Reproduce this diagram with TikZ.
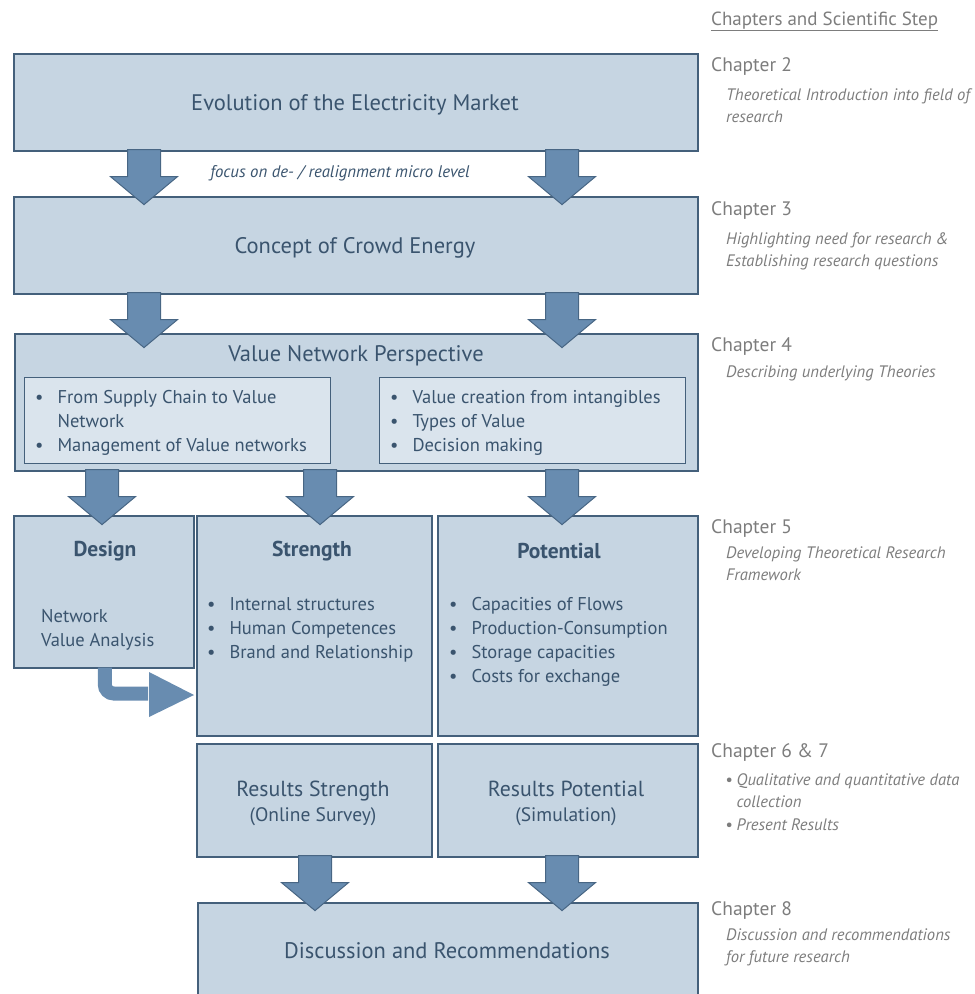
\documentclass[tikz,border=0pt]{standalone}
\usepackage{fontspec}
\setmainfont{PT Sans}
\usetikzlibrary{calc}

\definecolor{boxfill}{RGB}{198,213,226}
\definecolor{innerfill}{RGB}{218,228,237}
\definecolor{boxline}{RGB}{68,96,123}
\definecolor{boxtext}{RGB}{58,84,110}
\definecolor{arrowfill}{RGB}{104,140,176}
\definecolor{arrowline}{RGB}{72,102,132}
\definecolor{sidegray}{RGB}{125,125,125}

% downward block arrow, #1 = x centre, #2 = node it leaves from
\newcommand\dnblock[2]{%
  \path let \p1=(#2.south) in [blkarrow]
    (#1pt-16.5pt,\y1+2pt) -- (#1pt+16.5pt,\y1+2pt) -- (#1pt+16.5pt,\y1-25pt)
    -- (#1pt+33.5pt,\y1-25pt) -- (#1pt,\y1-53pt) -- (#1pt-33.5pt,\y1-25pt)
    -- (#1pt-16.5pt,\y1-25pt) -- cycle;}

\begin{document}
\begin{tikzpicture}[x=1pt,y=-1pt,
  box/.style={draw=boxline,fill=boxfill,line width=1.6pt,anchor=north west,inner sep=0pt},
  innerbox/.style={draw=boxline,fill=innerfill,line width=1.1pt,anchor=north west,inner sep=0pt},
  blkarrow/.style={draw=arrowline,fill=arrowfill,line width=1pt,line join=miter},
  title/.style={text=boxtext,anchor=base,inner sep=0pt,font=\fontsize{22.5}{26}\selectfont},
  head/.style={text=boxtext,anchor=base,inner sep=0pt,font=\bfseries\fontsize{21.5}{24}\selectfont},
  bul/.style={text=boxtext,anchor=base west,inner sep=0pt,font=\fontsize{18.5}{24}\selectfont},
  chap/.style={text=sidegray,anchor=base west,inner sep=0pt,font=\fontsize{19.5}{22}\selectfont},
  desc/.style={text=sidegray,anchor=base west,inner sep=0pt,font=\itshape\fontsize{16.6}{22.5}\selectfont}]
\path[use as bounding box] (0,0) rectangle (975,994);
\clip (0,0) rectangle (975,994);

% main flow boxes
\node[box,minimum width=684pt,minimum height=97pt] (evol) at (13,53) {};
\node[box,minimum width=684pt,minimum height=97pt] (crowd) at (13,196) {};
\node[box,minimum width=683pt,minimum height=137pt] (vnp) at (14,333) {};
\node[innerbox,minimum width=306pt,minimum height=86pt] (vnpl) at (24,377) {};
\node[innerbox,minimum width=306pt,minimum height=86pt] (vnpr) at (379,377) {};
\node[box,minimum width=180pt,minimum height=152pt] (design) at (13,515) {};
\node[box,minimum width=235pt,minimum height=220pt] (strength) at (196,515) {};
\node[box,minimum width=260pt,minimum height=220pt] (potential) at (437,515) {};
\node[box,minimum width=235pt,minimum height=113pt] (ress) at (196,743) {};
\node[box,minimum width=260pt,minimum height=113pt] (resp) at (437,743) {};
\node[box,minimum width=500pt,minimum height=112pt] (disc) at (197,902) {};

% box texts
\node[title] (tevol) at (355,110) {Evolution of the Electricity Market};
\node[title] (tcrowd) at (355,253) {Concept of Crowd Energy};
\node[title] (tvnp) at (356,361) {Value Network Perspective};
\node[bul] (lvnp) at (35,403) {\begin{tabular}[t]{@{}l@{\hspace{14pt}}l@{}}
  \textbullet & From Supply Chain to Value\\ & Network\\ \textbullet & Management of Value networks\end{tabular}};
\node[bul] (rvnp) at (390,403) {\begin{tabular}[t]{@{}l@{\hspace{14pt}}l@{}}
  \textbullet & Value creation from intangibles\\ \textbullet & Types of Value\\ \textbullet & Decision making\end{tabular}};
\node[head] (tdesign) at (105,556) {Design};
\node[bul] (ndesign) at (41,622) {\begin{tabular}[t]{@{}l@{}}Network\\Value Analysis\end{tabular}};
\node[head] (tstrength) at (312,556) {Strength};
\node[bul] (bstrength) at (207,610) {\begin{tabular}[t]{@{}l@{\hspace{14pt}}l@{}}
  \textbullet & Internal structures\\ \textbullet & Human Competences\\ \textbullet & Brand and Relationship\end{tabular}};
\node[head] (tpotential) at (559,558) {Potential};
\node[bul] (bpotential) at (449,610) {\begin{tabular}[t]{@{}l@{\hspace{14pt}}l@{}}
  \textbullet & Capacities of Flows\\ \textbullet & Production-Consumption\\ \textbullet & Storage capacities\\ \textbullet & Costs for exchange\end{tabular}};
\node[title,font=\fontsize{21.8}{24}\selectfont] (tress) at (313,796) {Results Strength};
\node[title,font=\fontsize{19.5}{22}\selectfont] (tress2) at (313,821) {(Online Survey)};
\node[title,font=\fontsize{21.8}{24}\selectfont] (tresp) at (566,796) {Results Potential};
\node[title,font=\fontsize{19.5}{22}\selectfont] (tresp2) at (566,821) {(Simulation)};
\node[title] (tdisc) at (447,958) {Discussion and Recommendations};

% block arrows between the stages
\dnblock{144}{evol}
\dnblock{562}{evol}
\dnblock{144}{crowd}
\dnblock{562}{crowd}
\dnblock{102}{vnp}
\dnblock{320}{vnp}
\dnblock{562}{vnp}
\dnblock{315}{ress}
\dnblock{562}{resp}
\node[anchor=base,inner sep=0pt,text=boxtext,font=\itshape\fontsize{16.8}{18}\selectfont] (focus) at (340,177) {focus on de- / realignment micro level};

% elbow arrow from Design into Strength
\coordinate (elbowtip) at (194,695);
\draw[arrowfill,line width=14pt,rounded corners=9pt] ($(design.south)+(1,-1)$) |- ($(elbowtip)+(-46,-1.5)$);
\fill[arrowfill] ($(elbowtip)+(-45,-23)$) -- (elbowtip) -- ($(elbowtip)+(-45,22)$) -- cycle;

% chapter column
\node[chap,font=\fontsize{19}{22}\selectfont] (hdr) at (711,25) {Chapters and Scientific Step};
\draw[sidegray,line width=0.9pt] (hdr.base west) ++(0,5) -- ($(hdr.base east)+(0,5)$);
\node[chap] (c2) at (711,71) {Chapter 2};
\node[desc] (d2) at (726,100) {\begin{tabular}[t]{@{}l@{}}Theoretical Introduction into field of\\research\end{tabular}};
\node[chap] (c3) at (711,215) {Chapter 3};
\node[desc] (d3) at (726,244) {\begin{tabular}[t]{@{}l@{}}Highlighting need for research \&\\Establishing research questions\end{tabular}};
\node[chap] (c4) at (711,351) {Chapter 4};
\node[desc] (d4) at (726,377) {Describing underlying Theories};
\node[chap] (c5) at (711,533) {Chapter 5};
\node[desc] (d5) at (726,558) {\begin{tabular}[t]{@{}l@{}}Developing Theoretical Research\\Framework\end{tabular}};
\node[chap] (c6) at (711,757) {Chapter 6 \& 7};
\node[desc] (d6) at (725,785) {\begin{tabular}[t]{@{}l@{\hspace{4pt}}l@{}}\textbullet & Qualitative and quantitative data\\ & collection\\ \textbullet & Present Results\end{tabular}};
\node[chap] (c8) at (711,915) {Chapter 8};
\node[desc] (d8) at (726,940) {\begin{tabular}[t]{@{}l@{}}Discussion and recommendations\\for future research\end{tabular}};
\end{tikzpicture}
\end{document}
